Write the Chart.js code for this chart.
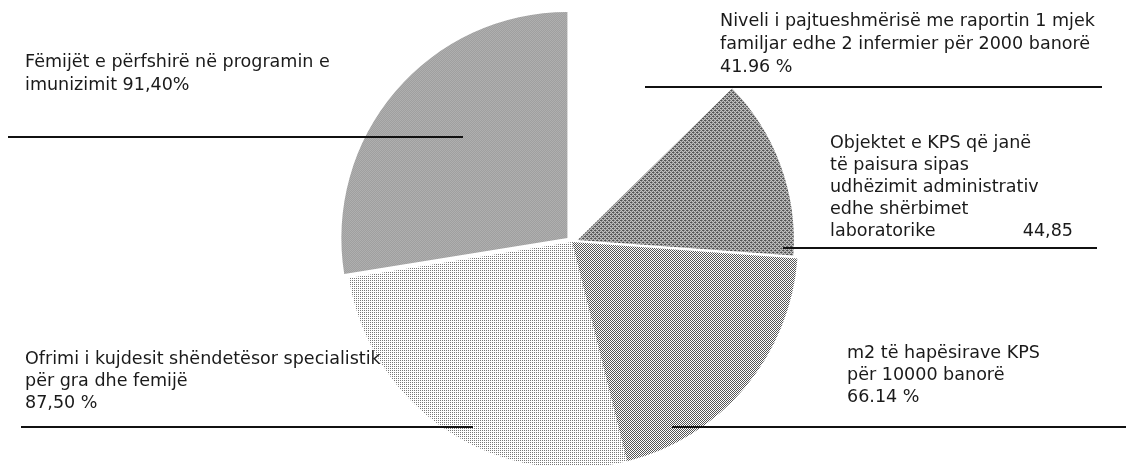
<!DOCTYPE html>
<html><head><meta charset="utf-8">
<script src="https://cdn.jsdelivr.net/npm/chart.js@4.4.0/dist/chart.umd.min.js"></script>
<style>html,body{margin:0;padding:0;background:#fff;overflow:hidden;width:1126px;height:465px}canvas{display:block}</style>
</head><body>
<canvas id="c" width="1126" height="485"></canvas>
<script>
// ---- data ----
const categories = [
  ["Niveli i pajtueshmërisë me raportin 1 mjek", "familjar edhe 2 infermier për 2000 banorë"],
  ["Objektet e KPS që janë", "të paisura sipas", "udhëzimit administrativ", "edhe shërbimet", "laboratorike"],
  ["m2 të hapësirave KPS", "për 10000 banorë"],
  ["Ofrimi i kujdesit shëndetësor specialistik", "për gra dhe femijë"],
  ["Fëmijët e përfshirë në programin e", "imunizimit"]
];
const values = [41.96, 44.85, 66.14, 87.50, 91.40];
const valueLabels = ["41.96 %", "44,85", "66.14 %", "87,50 %", "91,40%"];

// ---- styling ----
const FONT_FAMILY = '"DejaVu Sans", "Noto Sans", sans-serif';
function dither(dark, density16) {
  const bayer = [[0,8,2,10],[12,4,14,6],[3,11,1,9],[15,7,13,5]];
  const cv = document.createElement('canvas'); cv.width = 4; cv.height = 4;
  const cx = cv.getContext('2d');
  cx.fillStyle = '#ffffff'; cx.fillRect(0,0,4,4);
  cx.fillStyle = dark;
  for (let y=0;y<4;y++) for (let x=0;x<4;x++) if (bayer[y][x] < density16) cx.fillRect(x,y,1,1);
  return cx.createPattern(cv, 'repeat');
}
const ctx0 = document.getElementById('c').getContext('2d');
const fills = [
  '#ffffff',
  dither('#505050', 10),
  dither('#555555', 8),
  dither('#787878', 4),
  dither('#505050', 8)
];
const radiusFactor = [1, 0.95, 1, 1, 1];

// label layout (x, baselines, leader line)
const layout = [
  {x:720, y:[26,49], vy:72, vx:null, line:{y:87, x1:645, x2:1102}},
  {x:830, y:[148,170,192,214,236], vy:236, vx:1073, line:{y:248, x1:783, x2:1097}},
  {x:847, y:[358,380], vy:402, vx:null, line:{y:427, x1:672, x2:1126}},
  {x:25, y:[364,386], vy:408, vx:null, line:{y:427, x1:21, x2:473}},
  {x:25, y:[67,90], vy:null, vx:null, inline:true, line:{y:137, x1:8, x2:463}}
];

const radiusPlugin = {
  id: 'radius',
  beforeDatasetsDraw(chart) {
    const meta = chart.getDatasetMeta(0);
    meta.data.forEach((arc, i) => { arc.outerRadius = arc.outerRadius * radiusFactor[i]; });
  },
  afterDatasetsDraw(chart) {
    const meta = chart.getDatasetMeta(0);
    meta.data.forEach((arc, i) => { arc.outerRadius = arc.outerRadius / radiusFactor[i]; });
  }
};

const labelPlugin = {
  id: 'labels',
  afterDraw(chart) {
    const c = chart.ctx;
    c.save();
    c.font = '16px ' + FONT_FAMILY;
    const w16 = c.measureText(categories[4][0]).width;
    const size = 16 * 305 / w16;
    c.font = size.toFixed(2) + 'px ' + FONT_FAMILY;
    c.fillStyle = '#1a1a1a';
    c.textBaseline = 'alphabetic';
    c.strokeStyle = '#111';
    c.lineWidth = 2;
    layout.forEach((L, i) => {
      const lines = categories[i];
      lines.forEach((t, k) => {
        let txt = t;
        if (L.inline && k === lines.length - 1) txt = t + ' ' + valueLabels[i];
        c.textAlign = 'left';
        c.fillText(txt, L.x, L.y[k]);
      });
      if (!L.inline) {
        if (L.vx !== null) { c.textAlign = 'right'; c.fillText(valueLabels[i], L.vx, L.vy); }
        else { c.textAlign = 'left'; c.fillText(valueLabels[i], L.x, L.vy); }
      }
      c.beginPath();
      c.moveTo(L.line.x1, L.line.y);
      c.lineTo(L.line.x2, L.line.y);
      c.stroke();
    });
    c.restore();
  }
};

new Chart(ctx0, {
  type: 'pie',
  data: {
    labels: categories.map(l => l.join(' ')),
    datasets: [{
      data: values,
      backgroundColor: fills,
      borderWidth: 0,
      offset: [0, 24, 0, 0, 24]
    }]
  },
  options: {
    responsive: false,
    devicePixelRatio: 1,
    animation: false,
    layout: { padding: { left: 18, top: 4, right: 0, bottom: 5 } },
    plugins: { legend: { display: false }, tooltip: { enabled: false } }
  },
  plugins: [radiusPlugin, labelPlugin]
});
</script>
</body></html>
